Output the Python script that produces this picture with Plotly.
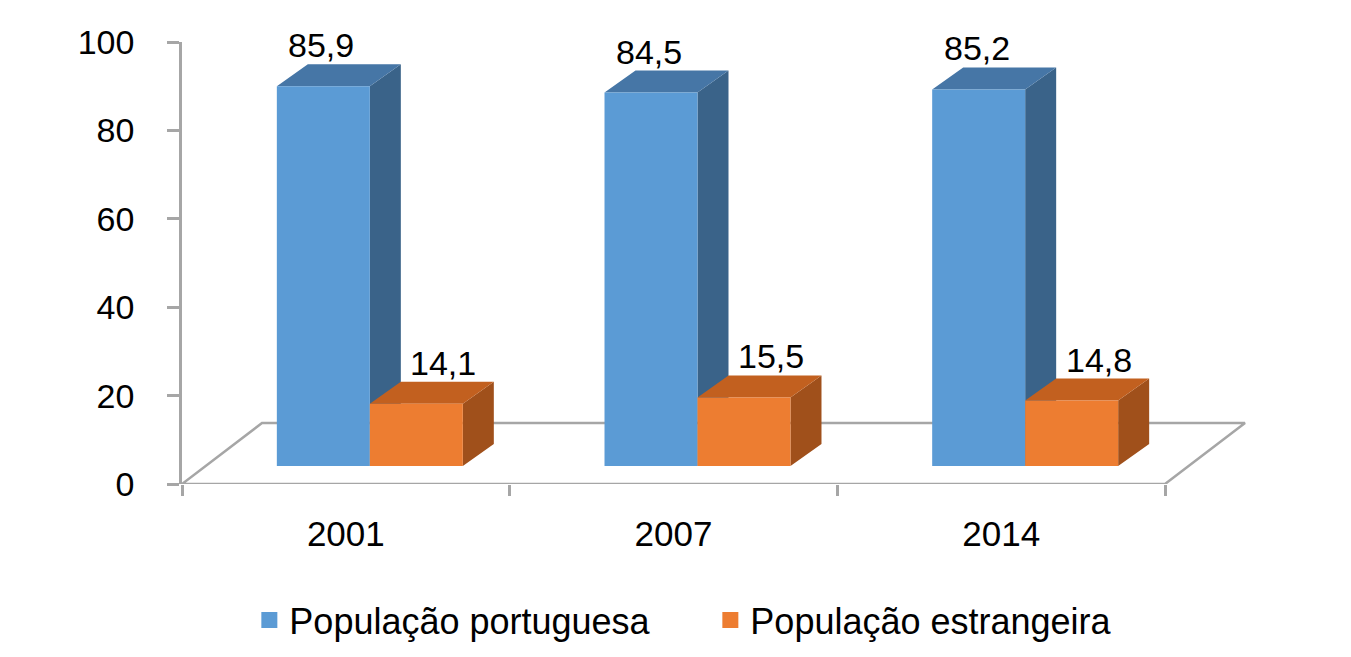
import plotly.graph_objects as go

# ---------------- data ----------------
years = ["2001", "2007", "2014"]
portuguesa = [85.9, 84.5, 85.2]
estrangeira = [14.1, 15.5, 14.8]
labels_pt = ["85,9", "84,5", "85,2"]
labels_es = ["14,1", "15,5", "14,8"]
series_names = ["População portuguesa", "População estrangeira"]
y_ticks = [0, 20, 40, 60, 80, 100]

# ---------------- style / projection ----------------
FONT = "Liberation Sans, Arial, sans-serif"
PX_X = 327.7   # pixels per category
PX_Y = 4.42    # pixels per y unit


def ux(px):
    return px / PX_X


def uy(px):
    return px / PX_Y


FRONT = (ux(24), uy(18))   # depth offset of bar front faces
BACK = (ux(55), uy(40))    # depth offset of bar back faces
FLOOR = (ux(80), uy(61))   # depth of the floor
BAR_W = ux(93)

colors = {
    "pt": {"front": "#5B9BD5", "top": "#4676A6", "side": "#3A6389"},
    "es": {"front": "#ED7D31", "top": "#C2601F", "side": "#A0501B"},
}

X_MIN = -0.5
X_MAX = len(years) - 0.5 + FLOOR[0] + ux(6)


def faces(values, left_off):
    fx, fy = FRONT
    bx, by = BACK
    side_x, side_y, top_x, top_y, fr_x, fr_y = [], [], [], [], [], []
    for i, v in enumerate(values):
        x0 = i + left_off
        x1 = x0 + BAR_W
        side_x += [x1 + fx, x1 + bx, x1 + bx, x1 + fx, x1 + fx, None]
        side_y += [fy, by, by + v, fy + v, fy, None]
        top_x += [x0 + fx, x1 + fx, x1 + bx, x0 + bx, x0 + fx, None]
        top_y += [fy + v, fy + v, by + v, by + v, fy + v, None]
        fr_x += [x0 + fx, x1 + fx, x1 + fx, x0 + fx, x0 + fx, None]
        fr_y += [fy, fy, fy + v, fy + v, fy, None]
    return (side_x, side_y), (top_x, top_y), (fr_x, fr_y)


fig = go.Figure()

# floor
n = len(years)
fig.add_trace(go.Scatter(
    x=[-0.5, n - 0.5, n - 0.5 + FLOOR[0], -0.5 + FLOOR[0], -0.5],
    y=[0, 0, FLOOR[1], FLOOR[1], 0],
    mode="lines", fill="toself", fillcolor="white",
    line=dict(color="#A6A6A6", width=2.5),
    hoverinfo="skip", showlegend=False,
))

for key, vals, off in (("pt", portuguesa, -BAR_W), ("es", estrangeira, 0.0)):
    side, top, front = faces(vals, off)
    for (xs, ys), part in ((side, "side"), (top, "top"), (front, "front")):
        fig.add_trace(go.Scatter(
            x=xs, y=ys, mode="lines", fill="toself",
            fillcolor=colors[key][part],
            line=dict(width=0, color=colors[key][part]),
            hoverinfo="skip", showlegend=False,
        ))

# legend entries
for name, key in zip(series_names, ("pt", "es")):
    fig.add_trace(go.Scatter(
        x=[None], y=[None], mode="markers", name=name,
        marker=dict(symbol="square", size=22, color=colors[key]["front"]),
    ))

# data labels
for vals, labs, off, shift in ((portuguesa, labels_pt, -BAR_W, -2),
                               (estrangeira, labels_es, 0.0, 27)):
    for i, (v, t) in enumerate(zip(vals, labs)):
        fig.add_annotation(
            x=i + off + BAR_W / 2 + FRONT[0], y=v + BACK[1],
            text=t, showarrow=False, xshift=shift, yshift=19,
            yanchor="middle", xanchor="center",
            font=dict(family=FONT, size=34, color="black"),
        )

fig.update_layout(
    width=1351, height=657,
    margin=dict(l=182, r=1351 - 182 - round((X_MAX - X_MIN) * PX_X), t=42, b=173,
                autoexpand=False),
    plot_bgcolor="white", paper_bgcolor="white",
    font=dict(family=FONT, size=34, color="black"),
    showlegend=True,
    legend=dict(
        orientation="h", x=0.063, xanchor="left",
        yref="container", y=1 - 620 / 657, yanchor="middle",
        font=dict(family=FONT, size=36, color="black"),
        entrywidth=416, entrywidthmode="pixels",
        bgcolor="rgba(0,0,0,0)", itemsizing="trace",
    ),
    xaxis=dict(
        range=[X_MIN, X_MAX], showgrid=False, zeroline=False, showline=False,
        tickvals=list(range(n)), ticktext=years, ticks="",
        tickfont=dict(family=FONT, size=35, color="black"),
        ticklabelstandoff=26,
        minor=dict(tickmode="linear", tick0=-0.5, dtick=1, ticks="outside",
                   ticklen=11, tickwidth=2.5, tickcolor="#A6A6A6", showgrid=False),
        fixedrange=True,
    ),
    yaxis=dict(
        range=[0, 100], tickvals=y_ticks, showgrid=False, zeroline=False,
        showline=True, linecolor="#A6A6A6", linewidth=2.5,
        ticks="outside", ticklen=12, tickwidth=2.5, tickcolor="#A6A6A6",
        tickfont=dict(family=FONT, size=34, color="black"),
        ticklabelstandoff=26, fixedrange=True,
    ),
)

fig.write_html("out.html")
